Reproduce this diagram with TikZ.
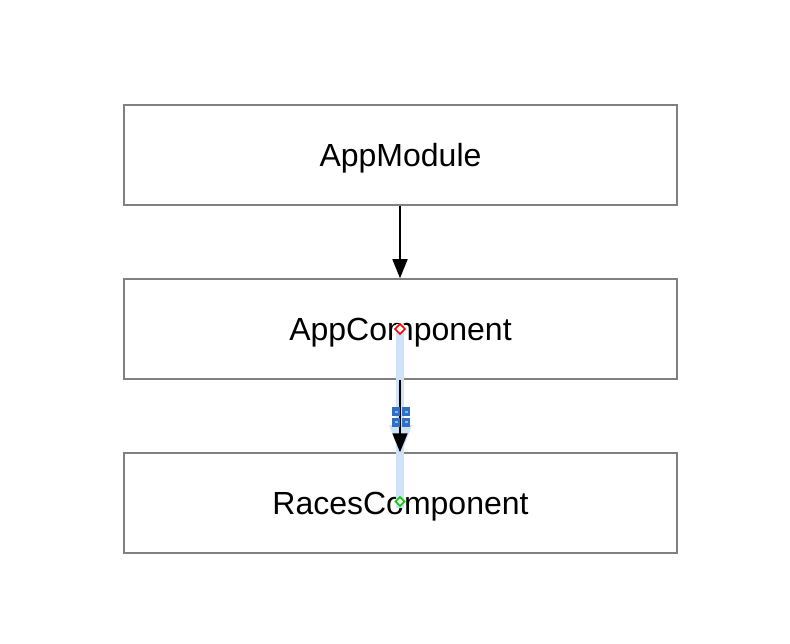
\documentclass[tikz,border=0pt]{standalone}
\usepackage{fontspec}
\setmainfont{Liberation Sans}
\usetikzlibrary{arrows.meta}
\definecolor{boxgray}{HTML}{808080}
\definecolor{selblue}{HTML}{CFE2F7}
\definecolor{handleblue}{HTML}{2F6FC4}
\definecolor{handlelight}{HTML}{8FB8EA}
\tikzset{
  compbox/.style={draw=boxgray, line width=1.5pt, minimum width=553pt, minimum height=100pt,
    inner sep=0pt, text height=23pt, text depth=0pt, font=\fontsize{32}{38}\selectfont, text=black},
  conn/.style={draw=black, line width=1.5pt, -{Triangle[length=19pt,width=15pt]}},
  selband/.style={draw=selblue, line width=8pt},
  diamondhandle/.style={draw=#1, fill=white, line width=1.6pt}
}
\begin{document}
\begin{tikzpicture}[x=1pt,y=-1pt]
\useasboundingbox[fill=white] (0,0) rectangle (790,644);
\node[compbox] (mod) at (400.5,155) {AppModule};
\node[compbox] (app) at (400.5,329) {AppComponent};
\node[compbox] (races) at (400.5,503) {RacesComponent};
% first connector
\draw[conn] (mod.south -| 400,0) -- (app.north -| 400,0);
% selection highlight of second connector
\coordinate (s) at (400,324);
\coordinate (e) at (400,508);
\draw[selband] (s) -- (e);
\fill[selblue] (389,425) -- (412,425) -- (400.5,456) -- cycle;
% second connector
\draw[conn] (app.south -| 400,0) -- (races.north -| 400,0);
% grid handle
\foreach \dx in {0,1}{\foreach \dy in {0,1}{
  \fill[handleblue] (392+\dx*10,407+\dy*10.5) rectangle ++(8,9);
  \fill[handlelight] (394.5+\dx*10,410.5+\dy*10.5) rectangle ++(3,2);
}}
% end handles
\draw[diamondhandle=red] (400,324) -- (405,329) -- (400,334) -- (395,329) -- cycle;
\draw[diamondhandle=green!80!black] (400,497) -- (404.5,501.5) -- (400,506) -- (395.5,501.5) -- cycle;
\end{tikzpicture}
\end{document}
